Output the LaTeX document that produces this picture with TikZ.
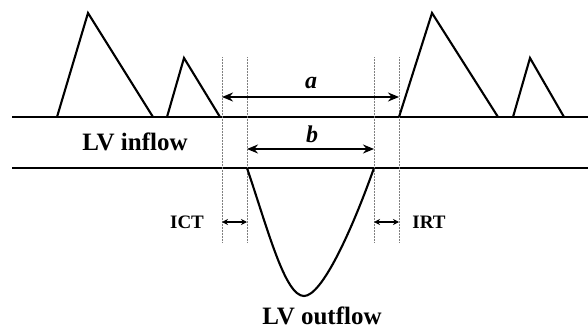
\documentclass[tikz,border=0pt]{standalone}
\usepackage{fontspec}
\setmainfont{Liberation Serif}
\usetikzlibrary{arrows.meta}
\tikzset{
  trace/.style={line width=2.1pt, line join=miter},
  base/.style={line width=2.3pt},
  guide/.style={densely dotted, line width=0.5pt, gray},
  span/.style={line width=2pt, {Stealth[length=11pt,width=9pt]}-{Stealth[length=11pt,width=9pt]}},
  small/.style={line width=1.5pt, {Stealth[length=6pt,width=6pt]}-{Stealth[length=6pt,width=6pt]}},
  lbl/.style={font=\bfseries\fontsize{25}{28}\selectfont, inner sep=0pt},
  mlbl/.style={font=\bfseries\fontsize{19}{22}\selectfont, inner sep=0pt},
  ilbl/.style={font=\bfseries\itshape\fontsize{24}{27}\selectfont, inner sep=0pt}
}
\begin{document}
\begin{tikzpicture}[x=1pt,y=-1pt]
\useasboundingbox (0,0) rectangle (588,329);
% baselines
\coordinate (l1) at (12,117); \coordinate (r1) at (588,117);
\coordinate (l2) at (12,168); \coordinate (r2) at (588,168);
\draw[base] (l1) -- (r1);
\draw[base] (l2) -- (r2);
% guides
\coordinate (g1t) at (222,57); \coordinate (g1b) at (222,242);
\coordinate (g2t) at (247,57); \coordinate (g2b) at (247,242);
\coordinate (g3t) at (374,57); \coordinate (g3b) at (374,242);
\coordinate (g4t) at (399,57); \coordinate (g4b) at (399,242);
\draw[guide] (g1t) -- (g1b);
\draw[guide] (g2t) -- (g2b);
\draw[guide] (g3t) -- (g3b);
\draw[guide] (g4t) -- (g4b);
% inflow triangles
\draw[trace] (57,117) -- (88,13) -- (153,117);
\draw[trace] (167,117) -- (184,58) -- (220,117);
\draw[trace] (399,117) -- (432,13) -- (498,117);
\draw[trace] (513,117) -- (530,58) -- (564,117);
% outflow
\draw[trace] (247,168) .. controls (268,230) and (285,296) .. (304,296)
  .. controls (322,296) and (352,230) .. (374,168);
% spans
\coordinate (aL) at (222,97); \coordinate (aR) at (399,97);
\coordinate (bL) at (247,149); \coordinate (bR) at (374,149);
\draw[span] (aL) -- (aR);
\draw[span] (bL) -- (bR);
\coordinate (cL) at (222,222); \coordinate (cR) at (247,222);
\coordinate (dL) at (374,222); \coordinate (dR) at (399,222);
\draw[small] (cL) -- (cR);
\draw[small] (dL) -- (dR);
% labels
\node[ilbl] (a) at (311,83) {a};
\node[ilbl] (b) at (312,134) {b};
\node[lbl] (inflow) at (135,142) {LV inflow};
\node[lbl] (outflow) at (322,316) {LV outflow};
\node[mlbl] (ict) at (187,222) {ICT};
\node[mlbl] (irt) at (429,222) {IRT};
\end{tikzpicture}
\end{document}
